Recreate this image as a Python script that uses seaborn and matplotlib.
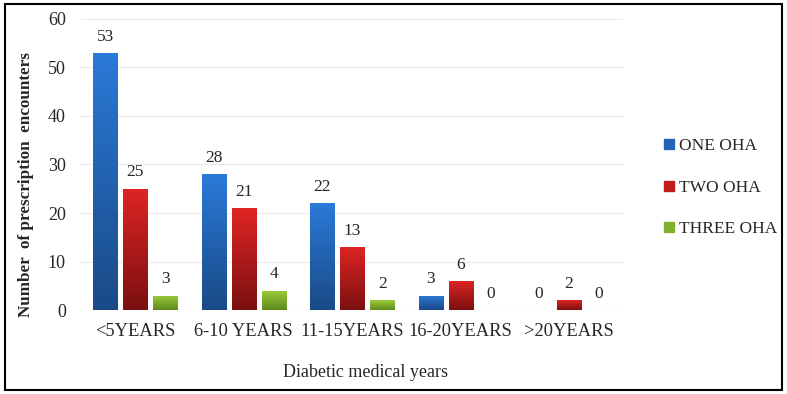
import matplotlib
matplotlib.use("Agg")
import matplotlib.pyplot as plt
import seaborn as sns
import numpy as np
import pandas as pd
from matplotlib.colors import LinearSegmentedColormap
from matplotlib.lines import Line2D
from matplotlib.patches import Rectangle

# data
categories = ["<5YEARS", "6-10 YEARS", "11-15YEARS", "16-20YEARS", ">20YEARS"]
series = ["ONE OHA", "TWO OHA", "THREE OHA"]
one_oha = [53, 28, 22, 3, 0]
two_oha = [25, 21, 13, 6, 2]
three_oha = [3, 4, 2, 0, 0]

df = pd.DataFrame({
    "years": categories * 3,
    "group": [s for s in series for _ in categories],
    "count": one_oha + two_oha + three_oha,
})

# (bottom, top) colours of each gradient
grad = {
    "ONE OHA": ("#1a4a86", "#2a7ad8"),
    "TWO OHA": ("#7a1010", "#e02424"),
    "THREE OHA": ("#5e8a1e", "#9ccc3c"),
}
mid = {"ONE OHA": "#2564b4", "TWO OHA": "#c01c1c", "THREE OHA": "#82b030"}

sns.set_style("white")
plt.rcParams["font.family"] = ["Liberation Serif", "DejaVu Serif"]

fig = plt.figure(figsize=(7.87, 3.94), dpi=100)
ax = fig.add_axes([0.103, 0.213, 0.689, 0.739])

sns.barplot(data=df, x="years", y="count", hue="group", order=categories,
            hue_order=series, palette=mid, width=0.83, gap=0.2,
            legend=False, ax=ax, zorder=2)

ax.set_ylim(0, 60)
xlim = ax.get_xlim()
ylim = ax.get_ylim()

# gradient fill clipped to each bar
for name, cont in zip(series, ax.containers):
    cmap = LinearSegmentedColormap.from_list(name, list(grad[name]))
    for p in cont.patches:
        h = p.get_height()
        if h <= 0:
            continue
        x0 = p.get_x()
        w = p.get_width()
        im = ax.imshow(np.linspace(0, 1, 256).reshape(-1, 1), cmap=cmap,
                       extent=[x0, x0 + w, 0, h], origin="lower",
                       aspect="auto", zorder=3)
        im.set_clip_path(p)
        p.set_facecolor("none")
        p.set_edgecolor("none")
    ax.bar_label(cont, labels=[str(int(v)) for v in cont.datavalues],
                 padding=6, fontsize=12.5, zorder=4)

ax.set_xlim(xlim)
ax.set_ylim(ylim)
ax.set_yticks(range(0, 61, 10))
ax.yaxis.grid(True, color="#ececec", linewidth=0.9, zorder=0)
ax.set_axisbelow(True)
for s in ax.spines.values():
    s.set_visible(False)
ax.tick_params(axis="both", length=0, labelsize=13)
ax.tick_params(axis="x", pad=9, labelsize=13.3)
ax.tick_params(axis="y", pad=11)

ax.set_xlabel("Diabetic medical years", fontsize=13)
ax.xaxis.set_label_coords(0.524, -0.185)
ax.set_ylabel("Number  of prescription  encounters", fontsize=12.3,
              fontweight="bold")
ax.yaxis.set_label_coords(-0.087, 0.431)

handles = [Line2D([], [], marker="s", linestyle="none", markersize=6.5,
                  color=mid[s]) for s in series]
fig.legend(handles, series, loc="center left",
           bbox_to_anchor=(0.823, 0.524), frameon=False, fontsize=12.5,
           labelspacing=1.45, handlelength=0.7, handletextpad=0.2)

fig.patches.append(Rectangle((5 / 787, 4 / 394), 777 / 787, 386 / 394,
                             transform=fig.transFigure, fill=False,
                             edgecolor="black", linewidth=1.5))

fig.savefig("out.png", dpi=100)
